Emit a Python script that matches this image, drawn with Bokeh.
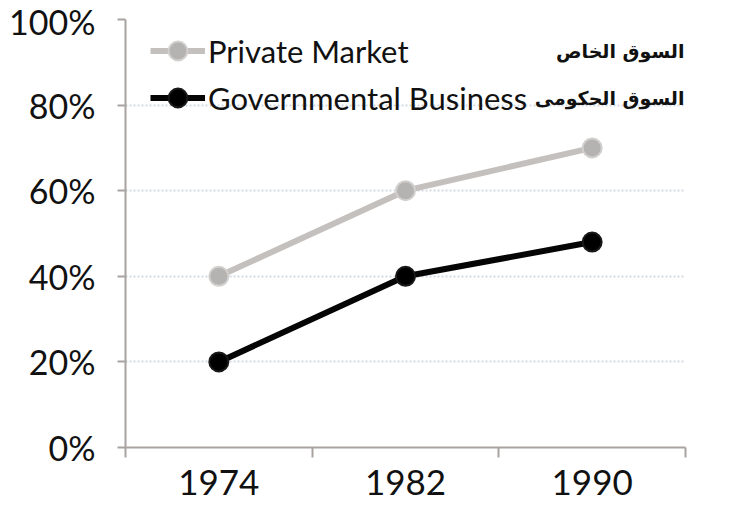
from bokeh.plotting import figure
from bokeh.models import (FactorRange, Range1d, LinearAxis, CategoricalAxis, FixedTicker,
                          NumeralTickFormatter, Legend, LegendItem, Label)
from bokeh.embed import file_html
from bokeh.resources import INLINE

# ---- data ----
years = ["1974", "1982", "1990"]
private_market = [0.40, 0.60, 0.70]
governmental = [0.20, 0.40, 0.48]
y_ticks = [0, 0.2, 0.4, 0.6, 0.8, 1.0]
series_names = ["Private Market", "Governmental Business"]
arabic_names = ["السوق الخاص", "السوق الحكومى"]

FONT = "Lato"
AXIS_COLOR = "#a8a2a0"
TEXT_COLOR = "#111111"

p = figure(width=745, height=512, output_backend="svg", toolbar_location=None,
           x_range=FactorRange(factors=years, range_padding=0),
           y_range=Range1d(0, 1),
           x_axis_location=None, y_axis_location=None,
           min_border_left=125, min_border_right=60, min_border_top=19, min_border_bottom=65)
p.outline_line_color = None
p.background_fill_color = "white"
p.border_fill_color = "white"

# y axis
yaxis = LinearAxis(ticker=FixedTicker(ticks=y_ticks), formatter=NumeralTickFormatter(format="0%"))
yaxis.axis_line_color = AXIS_COLOR
yaxis.axis_line_width = 2
yaxis.major_tick_line_color = AXIS_COLOR
yaxis.major_tick_line_width = 2
yaxis.major_tick_out = 8
yaxis.major_tick_in = 0
yaxis.minor_tick_line_color = None
yaxis.major_label_text_font = FONT
yaxis.major_label_text_font_size = "34px"
yaxis.major_label_text_color = TEXT_COLOR
yaxis.major_label_standoff = 22
p.add_layout(yaxis, "left")

# boundary tick marks between categories (synthetic category coordinates)
tick_axis = LinearAxis(ticker=FixedTicker(ticks=list(range(len(years) + 1))))
tick_axis.axis_line_color = AXIS_COLOR
tick_axis.axis_line_width = 2
tick_axis.major_tick_line_color = AXIS_COLOR
tick_axis.major_tick_line_width = 2
tick_axis.major_tick_out = 0
tick_axis.major_tick_in = -10
tick_axis.minor_tick_line_color = None
tick_axis.major_label_text_font_size = "1px"
tick_axis.major_label_text_alpha = 0
tick_axis.major_label_standoff = 0
p.add_layout(tick_axis, "below")

xaxis = CategoricalAxis()
xaxis.axis_line_color = None
xaxis.major_tick_line_color = None
xaxis.major_tick_out = 0
xaxis.major_tick_in = 0
xaxis.major_label_text_font = FONT
xaxis.major_label_text_font_size = "35px"
xaxis.major_label_text_color = TEXT_COLOR
xaxis.major_label_standoff = 22
p.add_layout(xaxis, "below")

# grid
p.ygrid.ticker = FixedTicker(ticks=y_ticks)
p.ygrid.grid_line_color = "#d3d9e3"
p.ygrid.grid_line_width = 2
p.ygrid.grid_line_dash = "2 2"
p.xgrid.grid_line_color = None

# series
l1 = p.line(years, private_market, line_color="#c4c0bd", line_width=6)
s1 = p.scatter(years, private_market, size=19, fill_color="#b5b3b2", line_color="#d2d0cf", line_width=2)
l2 = p.line(years, governmental, line_color="#050505", line_width=6)
s2 = p.scatter(years, governmental, size=19, fill_color="#000000", line_color="#1a1a1a", line_width=2)

legend = Legend(items=[LegendItem(label=series_names[0], renderers=[l1, s1]),
                       LegendItem(label=series_names[1], renderers=[l2, s2])],
                location=(25, 326))
legend.background_fill_alpha = 0
legend.border_line_color = None
legend.padding = 0
legend.margin = 0
legend.spacing = 0
legend.glyph_height = 47
legend.label_height = 47
legend.label_text_color = TEXT_COLOR
legend.label_text_baseline = "middle"
legend.glyph_width = 55
legend.label_standoff = 3
legend.label_text_font = FONT
legend.label_text_font_size = "31px"
p.add_layout(legend, "center")

# Arabic series names, right-aligned inside the plot area
for name, yy in zip(arabic_names, [397, 350]):
    p.add_layout(Label(x=559, y=yy, x_units="screen", y_units="screen", text=name,
                       text_align="right", text_baseline="middle",
                       text_font="DejaVu Sans", text_font_style="bold",
                       text_font_size="19px", text_color=TEXT_COLOR))

open("out.html", "w").write(file_html(p, INLINE))
